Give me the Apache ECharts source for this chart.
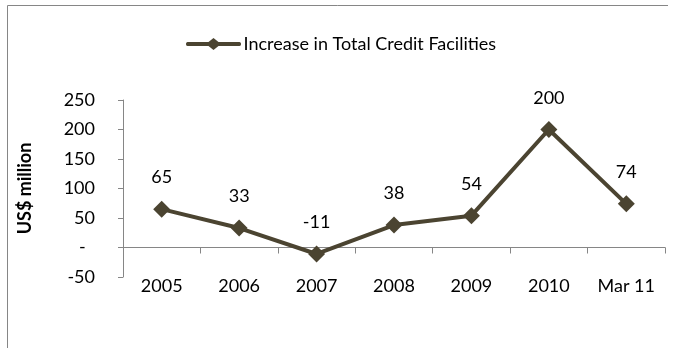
<!DOCTYPE html>
<html>
<head>
<meta charset="utf-8">
<script src="https://cdn.jsdelivr.net/npm/echarts@6/dist/echarts.min.js"></script>
<style>
  html, body { margin: 0; padding: 0; background: #fff; }
  #chart { width: 681px; height: 348px; }
</style>
</head>
<body>
<div id="chart"></div>
<script>
// Increase in total credit facilities, US$ million
const categories = ['2005', '2006', '2007', '2008', '2009', '2010', 'Mar 11'];
const creditIncrease = [65, 33, -11, 38, 54, 200, 74];
const seriesName = 'Increase in Total Credit Facilities';
const yMin = -50, yMax = 250, yStep = 50;

const FONT = 'Lato, "Open Sans", sans-serif';
const LINE = '#4b4431';
const AXIS = '#868686';

const chart = echarts.init(document.getElementById('chart'), null, { renderer: 'canvas' });

chart.setOption({
  animation: false,
  backgroundColor: '#fff',
  textStyle: { fontFamily: FONT, color: '#000' },
  legend: {
    left: 181,
    top: 30,
    itemWidth: 56,
    itemHeight: 12,
    itemGap: 0,
    textStyle: { fontFamily: FONT, fontSize: 18, color: '#000', padding: [0, 0, 0, -3] },
    data: [{ name: seriesName, icon: 'path://M2,4 L23,4 L28,0 L33,4 L54,4 C56,4 56,8 54,8 L33,8 L28,12 L23,8 L2,8 C0,8 0,4 2,4 Z' }]
  },
  grid: { left: 123, right: 16, top: 100, bottom: 71, containLabel: false },
  xAxis: {
    type: 'category',
    data: categories,
    boundaryGap: true,
    axisLine: { onZero: true, lineStyle: { color: AXIS, width: 1 } },
    axisTick: { show: true, inside: false, length: 6, alignWithLabel: false, lineStyle: { color: AXIS } },
    axisLabel: { margin: 0, fontSize: 18, color: '#000', fontFamily: FONT }
  },
  yAxis: {
    type: 'value',
    name: 'US$ million',
    nameLocation: 'middle',
    nameRotate: 90,
    nameGap: 89,
    nameTextStyle: { fontSize: 18, fontWeight: 'bold', color: '#000', fontFamily: FONT },
    min: yMin,
    max: yMax,
    interval: yStep,
    axisLine: { show: true, lineStyle: { color: AXIS, width: 1 } },
    axisTick: { show: true, length: 5, lineStyle: { color: AXIS } },
    splitLine: { show: false },
    axisLabel: {
      margin: 28,
      fontSize: 18,
      color: '#000',
      fontFamily: FONT,
      formatter: v => (v === 0 ? '-  ' : String(v))
    }
  },
  series: [{
    name: seriesName,
    type: 'line',
    data: creditIncrease,
    symbol: 'diamond',
    symbolSize: 17,
    lineStyle: { color: LINE, width: 4 },
    itemStyle: { color: LINE },
    label: {
      show: true,
      position: 'top',
      distance: 14,
      fontSize: 18,
      color: '#000',
      fontFamily: FONT
    }
  }],
  graphic: [{
    type: 'polyline',
    silent: true,
    shape: { points: [[7.5, 348], [7.5, 5.5], [668, 5.5]] },
    style: { stroke: AXIS, lineWidth: 1, fill: null }
  }]
});
</script>
</body>
</html>
